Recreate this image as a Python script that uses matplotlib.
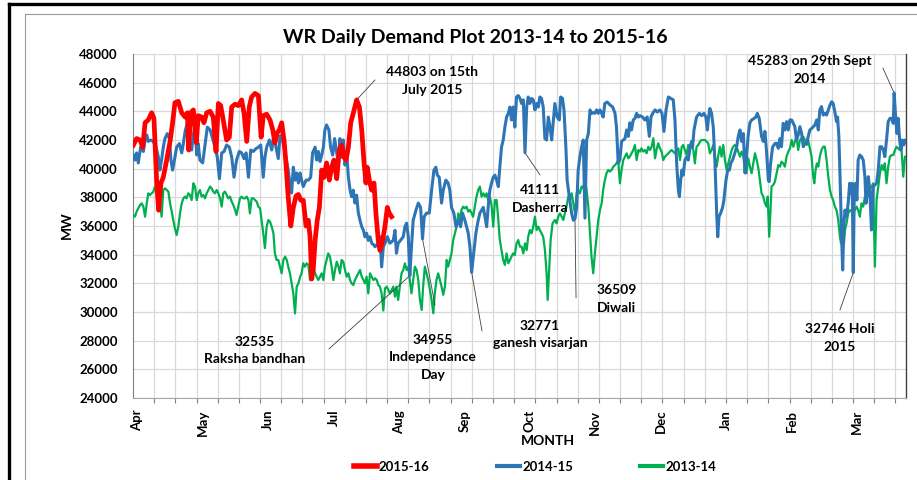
import matplotlib.pyplot as plt
import numpy as np
from matplotlib.lines import Line2D

plt.rcParams['font.family'] = ['Lato', 'DejaVu Sans']
plt.rcParams['font.weight'] = 'bold'

# days counted from 1st April, demand in MW
red_pts = [
    (0.2, 41650), (1.7, 42100), (3.3, 42000), (4.6, 41500), (5.7, 43200), (7.2, 43400), (8.8, 43900),
    (9.9, 43500), (11.2, 39000), (12.1, 37100), (13.2, 39000), (14.3, 39400), (15.9, 40600), (17.5, 41900),
    (18.7, 43200), (19.8, 44600), (21.4, 44700), (23.0, 43900), (24.6, 43600), (25.7, 43900), (26.3, 41300),
    (27.2, 43900), (28.5, 44100), (29.9, 41800), (30.8, 43700), (32.4, 43600), (33.5, 43200), (34.8, 43900),
    (36.4, 44000), (37.9, 43600), (39.2, 41200), (40.3, 44550), (41.4, 44400), (42.6, 43400), (44.2, 42000),
    (45.5, 42200), (46.6, 44300), (48.2, 44500), (49.7, 44400), (51.3, 44800), (52.4, 43900), (53.7, 41900),
    (54.9, 44300), (56.0, 45000), (57.6, 45250), (59.2, 45100), (60.5, 42200), (61.5, 43700), (63.1, 43800),
    (64.7, 43400), (66.0, 42700), (67.0, 41800), (68.1, 42500), (69.1, 42700), (70.2, 43200), (71.3, 42000),
    (72.2, 40400), (73.3, 38000), (74.5, 36000), (75.7, 37300), (77.0, 38100), (78.1, 38200), (79.2, 37800),
    (80.4, 37800), (81.7, 36000), (82.8, 36400), (83.6, 35250), (84.4, 32300), (85.2, 33150), (86.0, 35000),
    (87.0, 36400), (88.0, 37300), (89.1, 39900), (90.2, 39400), (91.4, 40400), (92.7, 39200), (93.8, 40100),
    (94.9, 40600), (96.2, 39300), (97.4, 41300), (98.5, 41650), (99.6, 40800), (100.6, 40600), (101.7, 41500),
    (102.8, 43200), (104.0, 43860), (105.6, 44803), (106.9, 44300), (108.0, 42700), (109.1, 40400),
    (110.0, 39000), (110.6, 40100), (111.6, 39200), (112.7, 38500), (113.8, 39000), (114.7, 36900),
    (115.8, 35000), (116.6, 34300), (117.9, 35000), (119.0, 36000), (120.1, 37300), (121.0, 36900),
    (122.1, 36650),
]

blue_pts = [
    (0.2, 40950), (0.9, 40600), (1.7, 41100), (2.5, 40400), (3.6, 41500), (4.9, 41200), (5.7, 42000),
    (6.5, 42350), (7.2, 41900), (8.3, 42000), (9.6, 41900), (10.9, 41500), (12.0, 40800), (12.7, 39900),
    (13.5, 40600), (14.3, 41500), (15.1, 42100), (16.2, 42450), (17.2, 42100), (17.9, 40600), (18.7, 39900),
    (19.8, 40800), (20.6, 41500), (21.9, 41750), (23.0, 41100), (23.8, 41750), (24.6, 42600), (25.7, 43200),
    (26.6, 41750), (27.7, 41300), (28.5, 42450), (29.3, 42900), (30.1, 40950), (30.8, 41750), (31.6, 40600),
    (32.9, 40400), (34.0, 41650), (35.1, 42900), (36.4, 42700), (37.6, 42100), (38.7, 41500), (39.8, 40800),
    (40.8, 39300), (41.9, 41100), (43.0, 41200), (44.2, 41650), (45.5, 41500), (46.6, 40800), (47.7, 39400),
    (48.9, 40600), (50.2, 41200), (51.3, 41100), (52.4, 40700), (53.4, 41100), (54.5, 39400), (55.6, 41300),
    (56.8, 41200), (58.1, 41400), (59.2, 41500), (60.3, 41650), (60.8, 40800), (61.5, 39400), (62.3, 40800),
    (63.1, 41500), (64.4, 42000), (65.5, 41300), (66.6, 42450), (67.5, 41500), (68.6, 40700), (69.4, 42250),
    (70.2, 42350), (71.3, 41500), (72.2, 40800), (73.3, 39900), (74.1, 39000), (74.9, 38300), (75.7, 40100),
    (76.5, 39200), (77.3, 39700), (78.1, 39000), (78.9, 39700), (79.6, 39200), (80.4, 38750), (81.7, 39200),
    (82.8, 39200), (83.9, 39400), (84.8, 41100), (86.0, 41500), (86.7, 40600), (87.5, 41200), (88.3, 40500),
    (89.1, 40950), (89.9, 41500), (90.6, 42700), (91.4, 43050), (92.5, 42700), (93.3, 41500), (94.3, 40950),
    (95.2, 42100), (96.2, 41100), (97.0, 40400), (97.7, 42100), (98.5, 40800), (99.3, 42000), (100.1, 40250),
    (100.9, 41100), (101.7, 39400), (102.5, 38500), (103.2, 38050), (104.0, 38500), (104.8, 37600),
    (105.6, 38150), (106.4, 36900), (107.2, 36400), (108.0, 35950), (108.8, 35700), (109.5, 35250),
    (110.3, 35500), (111.1, 35000), (111.9, 35250), (112.7, 34800), (113.5, 34700), (114.3, 34550),
    (115.1, 34700), (115.8, 34800), (116.6, 35250), (117.4, 33150), (118.2, 34550), (119.0, 34800),
    (120.1, 35250), (121.3, 34800), (122.9, 35000), (123.7, 35700), (124.4, 34100), (125.2, 34800),
    (126.3, 35000), (127.6, 35250), (128.4, 35950), (129.2, 36200), (130.0, 35250), (130.7, 32535),
    (131.5, 34550), (132.3, 36400), (133.6, 37100), (134.7, 37600), (135.8, 37300), (136.7, 35100),
    (137.5, 36650), (138.6, 36900), (139.9, 36900), (141.0, 38500), (142.1, 39900), (143.0, 40100),
    (143.7, 39550), (144.6, 39400), (145.7, 37600), (146.5, 38500), (147.7, 39200), (148.8, 39000),
    (149.6, 38500), (150.4, 37300), (151.5, 36900), (152.5, 35950), (153.6, 36400), (154.7, 35950),
    (155.6, 36900), (156.7, 36400), (157.5, 35950), (158.3, 35500), (159.1, 34550), (159.9, 32771),
    (161.0, 34300), (161.9, 35500), (163.0, 36400), (163.8, 36900), (164.6, 37100), (165.4, 37300),
    (166.2, 36650), (167.0, 35950), (167.7, 37300), (168.5, 38500), (169.3, 39000), (170.1, 39400),
    (170.9, 39550), (171.7, 39200), (172.5, 38750), (173.2, 40100), (174.0, 41500), (174.8, 42000),
    (175.6, 42900), (176.4, 43600), (177.2, 43860), (178.0, 44300), (178.7, 43400), (179.5, 44300),
    (180.3, 42900), (181.1, 45000), (181.9, 45100), (182.7, 44900), (183.5, 44550), (184.3, 44800),
    (185.1, 41111), (185.9, 44300), (186.6, 45000), (187.4, 44550), (188.2, 44900), (189.0, 44800),
    (189.8, 44100), (190.6, 44550), (191.4, 44300), (192.1, 45000), (192.9, 44900), (193.7, 44300),
    (194.5, 42100), (195.3, 42000), (196.1, 43600), (196.9, 42900), (197.7, 42000), (198.4, 43200),
    (199.2, 44550), (200.3, 43600), (201.3, 43400), (201.9, 45000), (202.8, 44900), (203.5, 44100),
    (204.4, 41500), (205.0, 39200), (206.0, 38050), (207.1, 36900), (207.9, 36400), (208.7, 36509),
    (209.5, 37300), (210.2, 39900), (211.0, 40800), (211.8, 41500), (212.6, 42000), (213.4, 36550),
    (214.2, 42000), (215.0, 42450), (215.8, 44100), (216.5, 43860), (217.3, 43900), (218.1, 43860),
    (218.9, 44100), (219.7, 43860), (220.5, 44100), (221.3, 43860), (222.0, 43600), (222.8, 44550),
    (223.9, 44650), (225.2, 44450), (226.5, 44300), (227.6, 43860), (228.3, 42900), (229.1, 40400),
    (229.9, 40600), (230.7, 41900), (231.5, 42000), (232.3, 42100), (233.1, 42700), (233.9, 42250),
    (234.6, 43200), (235.4, 42700), (236.2, 43400), (237.0, 43500), (237.8, 43860), (238.6, 43600),
    (239.4, 43700), (240.6, 43600), (241.7, 43400), (242.8, 43600), (243.8, 42250), (244.6, 43600),
    (245.4, 43860), (246.5, 44100), (247.6, 43950), (248.8, 44100), (249.8, 43860), (250.7, 42600),
    (251.7, 44100), (252.8, 45000), (253.9, 44900), (255.1, 44800), (255.9, 43400), (256.7, 40400),
    (257.5, 38500), (258.0, 38050), (258.6, 39200), (259.2, 39900), (259.8, 39550), (260.6, 40600),
    (261.4, 40800), (262.2, 40600), (263.0, 41500), (263.8, 41900), (264.2, 41500), (264.9, 42700),
    (266.1, 43600), (267.4, 43860), (268.5, 43700), (269.6, 43860), (270.5, 43600), (271.2, 42700),
    (271.8, 43600), (272.4, 44200), (273.2, 43860), (274.0, 42900), (274.8, 40400), (275.6, 36900),
    (276.1, 35250), (276.7, 36650), (277.5, 36900), (278.4, 37300), (279.0, 37800), (280.0, 39200),
    (280.8, 39900), (281.6, 39900), (282.3, 40400), (283.1, 40600), (284.2, 41100), (285.0, 41500),
    (285.8, 42250), (286.6, 42700), (287.4, 41900), (288.2, 42450), (289.0, 39700), (289.7, 40800),
    (290.5, 42350), (291.3, 43200), (292.1, 43400), (293.2, 43500), (294.1, 43600), (294.8, 43860),
    (295.7, 43500), (296.8, 42250), (297.6, 41900), (298.4, 42600), (299.2, 41100), (300.0, 39200),
    (300.4, 39100), (301.1, 40400), (302.0, 41500), (303.1, 41750), (303.9, 41770), (304.7, 41420),
    (305.5, 42100), (306.2, 41530), (307.0, 43160), (307.8, 42700), (308.6, 43280), (309.4, 42700),
    (310.2, 43400), (311.0, 43400), (311.8, 43160), (312.5, 42930), (313.3, 42000), (314.1, 42350),
    (314.9, 42930), (315.7, 42460), (316.5, 41530), (317.3, 41770), (318.1, 41770), (318.8, 42230),
    (319.6, 42700), (320.4, 42800), (321.2, 42930), (322.0, 43050), (322.8, 43400), (323.6, 42700),
    (324.3, 44100), (325.1, 44330), (325.9, 43740), (326.7, 43860), (327.5, 43740), (328.3, 44100),
    (329.1, 44440), (329.9, 44670), (330.6, 44550), (331.4, 43970), (332.2, 43280), (332.7, 43600),
    (333.3, 42230), (333.9, 39200), (334.6, 35250), (335.1, 32930), (335.7, 36180), (336.2, 37110),
    (336.9, 36650), (337.7, 37580), (338.4, 38980), (339.0, 38280), (339.6, 38980), (340.1, 32746),
    (340.6, 38510), (341.2, 38980), (341.8, 37810), (342.4, 40600), (343.2, 40950), (344.0, 40840),
    (344.8, 40600), (345.6, 39440), (346.1, 37580), (346.5, 38040), (347.2, 39440), (347.9, 38510),
    (348.7, 35720), (349.5, 38740), (350.3, 38860), (351.1, 38980), (351.9, 39910), (352.7, 41530),
    (353.5, 41530), (354.3, 41300), (355.0, 40840), (355.8, 42000), (356.6, 43280), (357.4, 43510),
    (358.2, 43510), (359.0, 43160), (359.4, 45283), (360.1, 43630), (360.7, 42460), (361.3, 43510),
    (362.0, 42000), (362.6, 41300), (363.2, 42000), (363.9, 41650), (364.5, 42000), (365.0, 41880),
]

green_pts = [
    (0.2, 36770), (0.9, 36650), (1.7, 37000), (2.5, 37230), (3.3, 37460), (4.1, 37580), (4.9, 37350),
    (5.7, 36650), (6.5, 37580), (7.2, 38280), (8.0, 38160), (8.8, 38280), (9.6, 38400), (10.4, 38750),
    (11.2, 38280), (12.0, 38750), (12.7, 37810), (13.5, 36650), (14.3, 38510), (15.1, 38630), (15.9, 38510),
    (16.7, 38400), (17.5, 37580), (18.3, 37000), (19.0, 36420), (19.8, 35840), (20.6, 35370), (21.4, 35950),
    (22.2, 36880), (23.0, 37580), (23.8, 37930), (24.6, 38050), (25.3, 37930), (26.1, 38280), (26.9, 38160),
    (27.7, 37810), (28.5, 38980), (29.3, 38750), (30.1, 37810), (30.8, 38280), (31.6, 38510), (32.4, 38050),
    (33.2, 38160), (34.0, 37930), (34.8, 38280), (35.6, 38510), (36.4, 38750), (37.1, 38630), (37.9, 38400),
    (38.7, 38280), (39.5, 38510), (40.3, 38280), (41.1, 37930), (41.9, 37350), (42.6, 38280), (43.4, 38400),
    (44.2, 38160), (45.0, 37930), (45.8, 38050), (46.6, 37700), (47.4, 37460), (48.2, 37120), (48.9, 36770),
    (49.7, 37350), (50.5, 37930), (51.3, 38050), (52.1, 37930), (52.9, 37930), (53.7, 38050), (54.5, 37810),
    (55.2, 36880), (56.0, 37930), (56.8, 37930), (57.6, 37810), (58.4, 37700), (59.2, 37350), (60.0, 37230),
    (60.7, 36420), (61.5, 35500), (62.3, 34460), (63.1, 35950), (63.9, 36420), (64.7, 36300), (65.5, 35950),
    (66.3, 35490), (67.0, 34090), (67.8, 33630), (68.6, 33630), (69.4, 33160), (70.2, 32700), (71.0, 33630),
    (71.8, 33860), (72.6, 33630), (73.3, 33160), (74.1, 32700), (74.9, 32000), (75.7, 31300), (76.5, 29900),
    (77.3, 31770), (78.1, 32000), (78.9, 32460), (79.6, 32700), (80.4, 33400), (81.2, 33160), (82.0, 33400),
    (82.8, 33280), (83.6, 32230), (84.4, 32700), (85.2, 33160), (86.0, 32700), (86.7, 32460), (87.5, 32230),
    (88.3, 32460), (89.1, 32700), (89.9, 32230), (90.6, 33160), (91.4, 33630), (92.2, 34090), (93.0, 33860),
    (93.8, 33160), (94.6, 32230), (95.4, 32930), (96.2, 33510), (97.0, 33160), (97.7, 32700), (98.5, 33630),
    (99.3, 33510), (100.1, 32930), (100.9, 32460), (101.7, 32700), (102.5, 32230), (103.2, 32000),
    (104.0, 31880), (104.8, 32230), (105.6, 32460), (106.4, 32700), (107.2, 32930), (108.0, 32460),
    (108.8, 32230), (109.5, 32000), (110.3, 32460), (111.1, 31300), (111.9, 32700), (112.7, 32460),
    (113.5, 32230), (114.3, 32350), (115.1, 32230), (115.8, 31880), (116.6, 31770), (117.4, 31300),
    (118.2, 30100), (119.0, 31650), (119.8, 31770), (120.6, 31530), (121.3, 31300), (122.1, 31500),
    (122.9, 31770), (123.7, 31070), (124.4, 31770), (125.2, 30840), (126.0, 31770), (126.8, 32700),
    (127.6, 32930), (128.4, 33400), (129.2, 32930), (130.0, 33160), (130.7, 32230), (131.5, 31300),
    (132.3, 32230), (133.1, 33160), (133.9, 32930), (134.7, 32230), (135.5, 30840), (136.3, 30140),
    (137.0, 31770), (137.8, 33160), (138.6, 32700), (139.4, 32230), (140.2, 31530), (141.0, 30840),
    (141.8, 29910), (142.5, 31300), (143.3, 32230), (144.1, 32700), (144.9, 32230), (145.7, 31770),
    (146.5, 31200), (147.3, 31770), (148.1, 33630), (148.8, 33160), (149.6, 33630), (150.4, 34090),
    (151.2, 35020), (152.0, 35490), (152.8, 35950), (153.6, 36880), (154.4, 36420), (155.1, 37120),
    (155.9, 37350), (156.7, 37230), (157.5, 37350), (158.3, 37000), (159.1, 37120), (159.9, 36880),
    (160.6, 36650), (161.4, 37350), (162.2, 38050), (163.0, 38510), (163.8, 38750), (164.6, 38050),
    (165.4, 38280), (166.2, 38050), (167.0, 38280), (167.7, 37810), (168.5, 38050), (169.3, 37460),
    (170.1, 35950), (170.9, 37810), (171.7, 37810), (172.5, 36420), (173.2, 35020), (174.0, 34320),
    (174.8, 33630), (175.6, 33280), (176.4, 34090), (177.2, 33400), (178.0, 33630), (178.7, 33860),
    (179.5, 34090), (180.3, 33980), (181.1, 34790), (181.9, 35020), (182.7, 34560), (183.5, 34560),
    (184.3, 34090), (185.1, 34790), (185.9, 34320), (186.6, 35250), (187.4, 35720), (188.2, 35490),
    (189.0, 35950), (189.8, 36650), (190.6, 35720), (191.4, 35950), (192.1, 35720), (192.9, 35490),
    (193.7, 35250), (194.5, 34320), (195.3, 32700), (195.8, 30840), (196.6, 33160), (197.2, 35020),
    (198.1, 36180), (199.2, 36420), (200.0, 36180), (200.8, 36650), (201.6, 36880), (202.4, 36650),
    (203.2, 36420), (203.9, 36880), (204.7, 37350), (205.5, 38050), (206.3, 37810), (207.1, 38280),
    (207.9, 37580), (208.7, 36880), (209.5, 38280), (210.2, 38510), (211.0, 38280), (211.8, 38750),
    (212.6, 38630), (213.4, 39210), (214.2, 38510), (215.0, 37350), (215.8, 35490), (216.5, 33860),
    (217.3, 32700), (218.1, 34090), (218.9, 35250), (219.7, 36420), (220.5, 37120), (221.3, 37580),
    (222.0, 38510), (222.8, 39210), (223.6, 39680), (224.4, 39910), (225.2, 39800), (226.0, 39910),
    (226.8, 40140), (227.6, 40250), (228.3, 40370), (229.1, 40600), (229.9, 38980), (230.7, 39910),
    (231.5, 40600), (232.3, 40840), (233.1, 41070), (233.9, 40720), (234.6, 40840), (235.4, 41070),
    (236.2, 41300), (237.0, 41650), (237.8, 40600), (238.6, 41300), (239.4, 41190), (240.1, 41420),
    (240.9, 41190), (241.7, 41300), (242.5, 41070), (243.3, 41530), (244.1, 41300), (244.9, 41530),
    (245.7, 42120), (246.5, 40720), (247.2, 41300), (248.0, 41770), (248.8, 41420), (249.6, 41190),
    (250.4, 40600), (251.2, 40840), (252.0, 40950), (252.8, 41070), (253.5, 41190), (254.3, 41300),
    (255.1, 41190), (255.9, 41070), (256.7, 41300), (257.5, 41420), (258.3, 40600), (259.1, 41530),
    (259.8, 41650), (260.6, 41300), (261.4, 40950), (262.2, 41650), (263.0, 41420), (263.8, 41530),
    (264.6, 41300), (265.3, 40370), (266.1, 41530), (266.9, 41650), (267.7, 41880), (268.5, 42000),
    (269.3, 42000), (270.1, 42000), (270.9, 41880), (271.6, 41770), (272.4, 41070), (273.2, 41300),
    (274.0, 41650), (274.8, 40840), (275.6, 40140), (276.4, 40950), (277.1, 41530), (277.9, 40840),
    (278.7, 41650), (279.5, 40600), (280.3, 39910), (281.1, 40370), (281.9, 40840), (282.7, 41300),
    (283.4, 41530), (284.2, 41650), (285.0, 41530), (285.8, 41190), (286.6, 40840), (287.4, 41190),
    (288.2, 40840), (289.0, 39790), (289.7, 39680), (290.5, 40720), (291.3, 40140), (292.1, 39680),
    (292.9, 40370), (293.7, 41070), (294.5, 40600), (295.3, 40020), (296.0, 39210), (296.8, 38280),
    (297.6, 38050), (298.4, 37580), (299.2, 37350), (299.7, 38050), (300.4, 35250), (301.1, 37350),
    (301.5, 38750), (302.3, 38860), (303.1, 39090), (303.9, 39670), (304.7, 40250), (305.5, 40140),
    (306.2, 40490), (307.0, 40370), (307.8, 40140), (308.6, 40840), (309.4, 41190), (310.2, 41420),
    (311.0, 42000), (311.8, 41530), (312.5, 41880), (313.3, 42230), (314.1, 41300), (314.9, 42000),
    (315.7, 42120), (316.5, 42230), (317.3, 42000), (318.1, 41650), (318.8, 42000), (319.6, 41420),
    (320.4, 40840), (321.2, 39440), (321.7, 38980), (322.3, 39910), (322.9, 40370), (323.6, 40140),
    (324.3, 40840), (325.1, 41300), (325.9, 41530), (326.7, 41530), (327.5, 40600), (328.3, 39440),
    (329.1, 38510), (329.9, 38040), (330.6, 37810), (331.4, 37350), (332.2, 37110), (333.0, 36420),
    (333.8, 35250), (334.3, 34790), (334.9, 35020), (335.7, 34790), (336.2, 35720), (336.9, 36180),
    (337.7, 36880), (338.5, 37110), (339.3, 37000), (340.1, 37350), (340.9, 37110), (341.7, 37350),
    (342.4, 37110), (343.2, 36650), (344.0, 37580), (344.8, 37350), (345.6, 38040), (346.4, 37810),
    (347.2, 38280), (347.9, 38510), (348.7, 38740), (349.5, 38980), (350.3, 33160), (351.1, 37810),
    (351.9, 38740), (352.7, 39670), (353.5, 40250), (354.3, 39910), (355.0, 40370), (355.8, 38980),
    (356.6, 40140), (357.4, 40840), (358.2, 40950), (359.0, 40950), (359.8, 41300), (360.5, 41530),
    (361.3, 41420), (362.1, 41300), (362.9, 41300), (363.7, 39440), (364.5, 40840), (365.0, 40840),
]

months = ['Apr', 'May', 'Jun', 'Jul', 'Aug', 'Sep', 'Oct', 'Nov', 'Dec', 'Jan', 'Feb', 'Mar']
yticks = list(range(24000, 48001, 2000))

# (label, day/MW of the marked point, leader end, text centre)
notes = [
    ('44803 on 15th\nJuly 2015', (105.6, 44803), (114.3, 46190), (141.2, 46120)),
    ('45283 on 29th Sept\n2014', (359.4, 45283), (354.1, 47020), (319.6, 46880)),
    ('41111\nDasherra', (185.1, 41111), (192.2, 39560), (192.2, 37880)),
    ('32535\nRaksha bandhan', (130.7, 32535), (92.5, 27420), (57.6, 27310)),
    ('34955\nIndependance\nDay', (136.7, 35100), (142.6, 30490), (141.6, 26860)),
    ('32771\nganesh visarjan', (159.9, 32771), (164.8, 28670), (192.2, 28430)),
    ('36509\nDiwali', (208.7, 36509), (209.2, 30980), (228.5, 30900)),
    ('32746 Holi\n2015', (340.1, 32746), (333.8, 30140), (333.8, 28180)),
]

fig = plt.figure(figsize=(9.17, 4.8), dpi=100)
W, H = 917, 480
ax = fig.add_axes([133 / W, 1 - 398 / H, 773 / W, 344 / H])

# chart frames
fig.add_artist(Line2D([9 / W, 9 / W], [0, 1 - 4 / H], color='black', lw=2.4))
fig.add_artist(Line2D([9 / W, 1], [1 - 4 / H, 1 - 4 / H], color='black', lw=2.4))
fig.add_artist(Line2D([24.5 / W, 24.5 / W], [0, 1 - 13.5 / H], color='#9a9a9a', lw=0.8))
fig.add_artist(Line2D([24.5 / W, 1], [1 - 13.5 / H, 1 - 13.5 / H], color='#9a9a9a', lw=0.8))

gx, gy = zip(*green_pts)
bx, by = zip(*blue_pts)
rx, ry = zip(*red_pts)
lg, = ax.plot(gx, gy, color='#00b050', lw=1.6, zorder=3)
lb, = ax.plot(bx, by, color='#2e75b6', lw=2.2, zorder=4)
lr, = ax.plot(rx, ry, color='#ff0000', lw=3.4, zorder=5)

ax.set_xlim(0, 365)
ax.set_ylim(24000, 48000)
ax.set_yticks(yticks)
ax.set_yticklabels([str(v) for v in yticks])
ax.set_xticks(np.arange(12) * 30.9 + 2)
ax.set_xticklabels(months, rotation=90)
ax.set_xticks(np.arange(10, 365, 10), minor=True)
ax.tick_params(axis='x', which='major', length=0, pad=8.5, labelsize=9.5)
ax.tick_params(axis='x', which='minor', length=3.6, color='#808080', width=0.8)
ax.tick_params(axis='y', length=0, pad=11, labelsize=9.5)
ax.grid(True, axis='y', color='#d9d9d9', lw=0.9)
ax.grid(True, axis='x', which='minor', color='#d9d9d9', lw=0.9)
for s in ['top']:
    ax.spines[s].set_visible(False)
ax.spines['left'].set_color('#808080')
ax.spines['bottom'].set_color('#a6a6a6')
ax.spines['right'].set_color('#404040')
ax.spines['right'].set_linewidth(1.0)

for text, pt, end, pos in notes:
    ax.annotate('', xy=pt, xytext=end,
                arrowprops=dict(arrowstyle='-', color='#404040', lw=0.6, shrinkA=0, shrinkB=0))
    ax.text(pos[0], pos[1], text, ha='center', va='center', fontsize=10,
            fontweight='bold', linespacing=1.55, zorder=6)

fig.text(475 / W, 1 - 38 / H, 'WR Daily Demand Plot 2013-14 to 2015-16', ha='center', va='center',
         fontsize=14, fontweight='bold')
fig.text(67 / W, 1 - 225 / H, 'MW', rotation=90, ha='center', va='center', fontsize=10, fontweight='bold')
fig.text(548 / W, 1 - 441 / H, 'MONTH', ha='center', va='center', fontsize=10, fontweight='bold')

fig.legend([lr, lb, lg], ['2015-16', '2014-15', '2013-14'], loc='center', ncol=3,
           bbox_to_anchor=(535 / W, 1 - 467 / H), frameon=False, fontsize=9.5,
           handlelength=1.75, handletextpad=0.15, columnspacing=5.1)
for h, w in zip(fig.legends[0].legend_handles, [4.0, 3.0, 3.0]):
    h.set_linewidth(w)

fig.savefig('out.png', dpi=100)
